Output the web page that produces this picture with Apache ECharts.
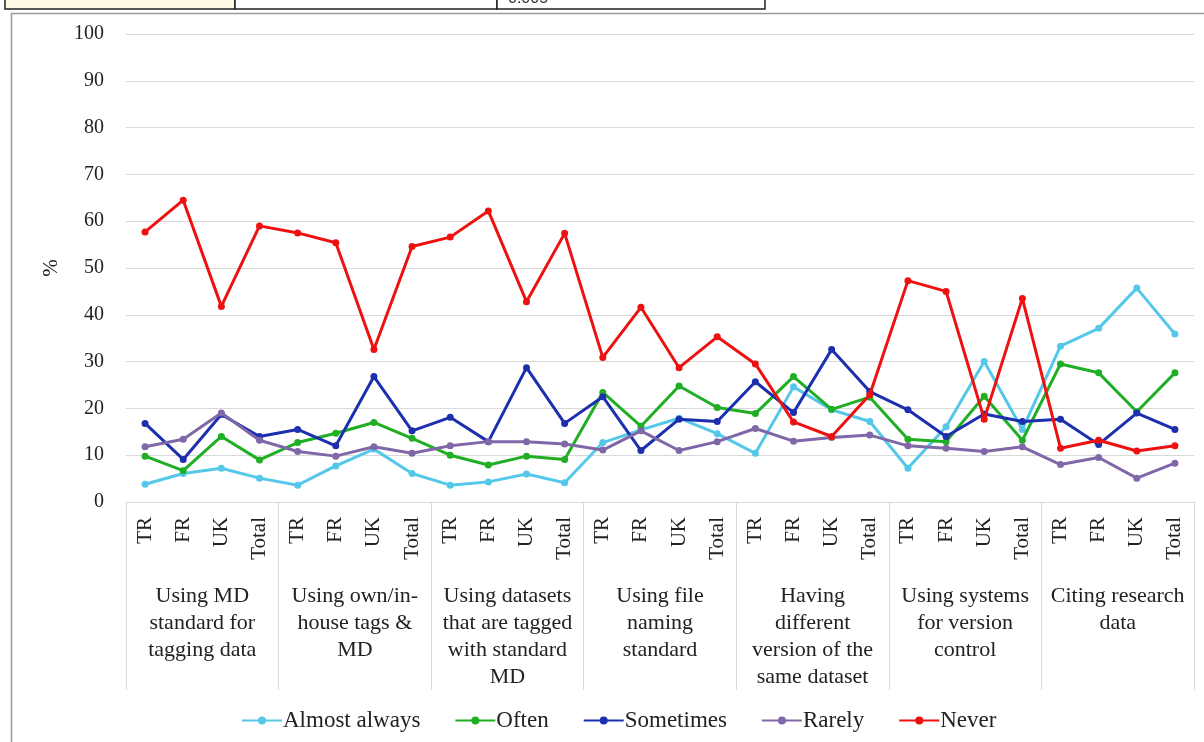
<!DOCTYPE html>
<html><head><meta charset="utf-8">
<script src="https://cdn.jsdelivr.net/npm/echarts@6/dist/echarts.min.js"></script>
<style>html,body{margin:0;padding:0;background:#fff}#c{width:1204px;height:742px}</style>
</head><body><div id="c"></div>
<script>
const countries = ['TR','FR','UK','Total'];
const groups = [
  'Using MD\nstandard for\ntagging data',
  'Using own/in-\nhouse tags &\nMD',
  'Using datasets\nthat are tagged\nwith standard\nMD',
  'Using file\nnaming\nstandard',
  'Having\ndifferent\nversion of the\nsame dataset',
  'Using systems\nfor version\ncontrol',
  'Citing research\ndata'
];
const seriesNames = ['Almost always','Often','Sometimes','Rarely','Never'];
const almostAlways = [3.8,6.1,7.2,5.1, 3.6,7.7,11.3,6.1, 3.6,4.3,6.0,4.1, 12.7,15.4,17.9,14.6, 10.4,24.6,19.7,17.2, 7.2,16.1,30.0,15.5, 33.3,37.1,45.7,35.9];
const often        = [9.8,6.7,14.0,9.0, 12.7,14.7,17.0,13.6, 10.0,7.9,9.8,9.1, 23.4,16.2,24.8,20.2, 18.9,26.8,19.8,22.4, 13.4,12.9,22.6,13.2, 29.5,27.6,19.3,27.6];
const sometimes    = [16.8,9.1,18.7,14.0, 15.5,12.0,26.8,15.2, 18.1,12.9,28.7,16.8, 22.5,11.0,17.7,17.2, 25.7,19.1,32.6,23.6, 19.7,14.0,18.8,17.2, 17.7,12.3,19.0,15.5];
const rarely       = [11.8,13.4,19.0,13.2, 10.8,9.8,11.8,10.4, 12.0,12.9,12.9,12.4, 11.1,15.2,11.0,12.9, 15.7,13.0,13.8,14.3, 12.0,11.5,10.8,11.8, 8.0,9.5,5.1,8.3];
const never        = [57.7,64.5,41.8,59.0, 57.5,55.4,32.6,54.6, 56.6,62.2,42.8,57.4, 30.9,41.6,28.7,35.3, 29.5,17.1,14.0,22.9, 47.3,45.0,17.7,43.5, 11.5,13.2,10.9,12.0];
const colors = ['#55c8ea','#1fae24','#1c2fae','#8068a8','#ee1111'];
const yTicks = {min:0,max:100,interval:10};

const cats = [];
groups.forEach((g,gi)=>countries.forEach(c=>cats.push(c)));
const dataArr = [almostAlways, often, sometimes, rarely, never];
const serif = '"Liberation Serif","DejaVu Serif",serif';

const chart = echarts.init(document.getElementById('c'));
chart.setOption({
  animation:false,
  backgroundColor:'#fff',
  textStyle:{fontFamily:serif},
  grid:{left:126,right:10,top:34,bottom:240},
  legend:{
    top:704,left:236,itemWidth:40,itemHeight:10,itemGap:34,
    textStyle:{fontFamily:serif,fontSize:23,color:'#222',padding:[0,0,0,-4]},
    data:seriesNames
  },
  xAxis:[
    {type:'category',data:cats,boundaryGap:true,
      axisLine:{show:true,lineStyle:{color:'#d9d9d9',width:1}},
      axisTick:{show:false},
      axisLabel:{rotate:90,fontFamily:serif,fontSize:21,color:'#222',margin:15,interval:0}
    },
    {type:'category',data:groups,position:'bottom',boundaryGap:true,
      axisLine:{show:false},
      axisTick:{show:true,length:188,interval:0,lineStyle:{color:'#d9d9d9',width:1}},
      axisLabel:{fontFamily:serif,fontSize:22,lineHeight:27,color:'#222',margin:81,interval:0,verticalAlign:'top'}
    }
  ],
  yAxis:{type:'value',min:yTicks.min,max:yTicks.max,interval:yTicks.interval,
    name:'%',nameLocation:'middle',nameGap:64,nameRotate:90,
    nameTextStyle:{fontFamily:serif,fontSize:21,color:'#222'},
    axisLine:{show:false},axisTick:{show:false},
    axisLabel:{fontFamily:serif,fontSize:20,color:'#222',margin:22},
    splitLine:{lineStyle:{color:'#d9d9d9',width:1}}
  },
  series: seriesNames.map((n,i)=>({
    name:n,type:'line',data:dataArr[i],xAxisIndex:0,
    symbol:'circle',symbolSize:7,
    lineStyle:{width:3,color:colors[i]},
    itemStyle:{color:colors[i]},
    z: 10+i
  })),
  graphic:[
    {type:'rect',left:9,top:11,shape:{width:1200,height:740},style:{fill:'none',stroke:'#9a9a9a',lineWidth:1.5},silent:true},
    {type:'rect',shape:{x:5,y:-2,width:230,height:11},style:{fill:'#fffbe6',stroke:'#222',lineWidth:1.5},silent:true},
    {type:'rect',shape:{x:235,y:-2,width:262,height:11},style:{fill:'#fff',stroke:'#222',lineWidth:1.5},silent:true},
    {type:'rect',shape:{x:497,y:-2,width:268,height:11},style:{fill:'#fff',stroke:'#222',lineWidth:1.5},silent:true},
    {type:'text',x:508,y:-9,z:100,style:{text:'0.005',font:'16px "Liberation Sans",sans-serif',fill:'#333'},silent:true}
  ]
});
</script></body></html>
